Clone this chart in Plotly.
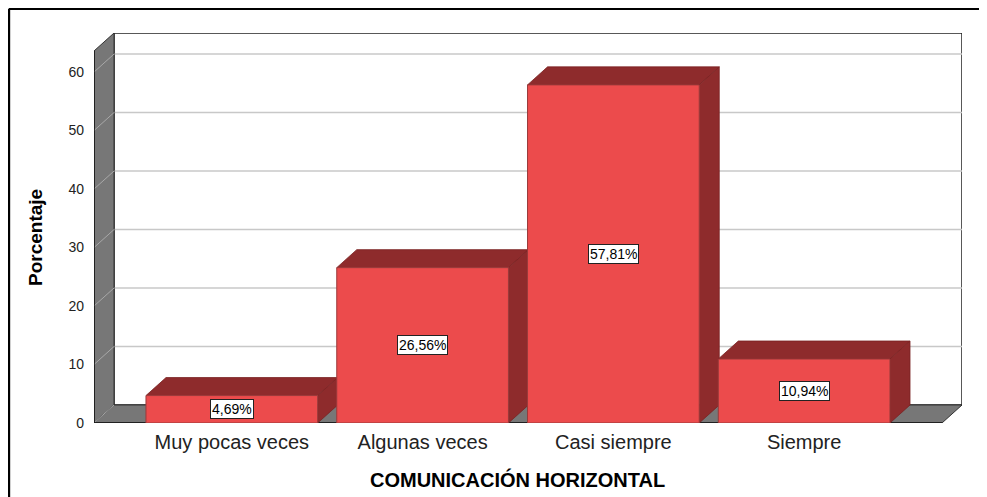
import plotly.graph_objects as go

# ---- data ----
categories = ["Muy pocas veces", "Algunas veces", "Casi siempre", "Siempre"]
values = [4.69, 26.56, 57.81, 10.94]
value_labels = ["4,69%", "26,56%", "57,81%", "10,94%"]
y_ticks = [0, 10, 20, 30, 40, 50, 60]
x_title = "COMUNICACIÓN HORIZONTAL"
y_title = "Porcentaje"

# ---- style / geometry ----
FONT = "Arial, Liberation Sans, sans-serif"
FRONT = "#EC4B4C"
DARK = "#8E2B2C"
GRAY = "#777777"
GRID = "#C8C8C8"
BAR_W = 0.9
XL, XR = -0.7225, 3.7225      # front plane x extent
YTOP = 63.6                   # front plane top
DX, DY = 0.105, 3.08          # depth offset (data units)

fig = go.Figure()
fig.add_trace(go.Bar(
    x=list(range(len(categories))), y=values, width=BAR_W,
    marker=dict(color=FRONT, line=dict(color="#9a3a3a", width=1)),
    hoverinfo="skip", showlegend=False))

shapes = []
# back wall
shapes.append(dict(type="rect", xref="x", yref="y", x0=XL + DX, x1=XR + DX,
                   y0=DY, y1=YTOP + DY, fillcolor="white",
                   line=dict(color="#222222", width=1.5), layer="below"))
# gridlines on back wall
for v in y_ticks[1:]:
    shapes.append(dict(type="line", xref="x", yref="y", x0=XL + DX, x1=XR + DX,
                       y0=v + DY, y1=v + DY, line=dict(color=GRID, width=1.5),
                       layer="below"))
# left wall
shapes.append(dict(type="path", xref="x", yref="y",
                   path=f"M {XL},0 L {XL},{YTOP} L {XL+DX},{YTOP+DY} L {XL+DX},{DY} Z",
                   fillcolor=GRAY, line=dict(color="#333333", width=1), layer="below"))
# floor
shapes.append(dict(type="path", xref="x", yref="y",
                   path=f"M {XL},0 L {XR},0 L {XR+DX},{DY} L {XL+DX},{DY} Z",
                   fillcolor=GRAY, line=dict(color="#333333", width=1), layer="below"))
# left wall gridlines
for v in y_ticks:
    shapes.append(dict(type="line", xref="x", yref="y", x0=XL, x1=XL + DX,
                       y0=v, y1=v + DY, line=dict(color="#A8A8A8", width=1),
                       layer="below"))
# front edges
shapes.append(dict(type="line", xref="x", yref="y", x0=XL, x1=XR, y0=0, y1=0,
                   line=dict(color="#111111", width=1.5), layer="below"))
shapes.append(dict(type="line", xref="x", yref="y", x0=XL, x1=XL, y0=0, y1=YTOP,
                   line=dict(color="#111111", width=1.5), layer="below"))
# bar tops and sides
for i, v in enumerate(values):
    x0, x1 = i - BAR_W / 2, i + BAR_W / 2
    shapes.append(dict(type="path", xref="x", yref="y",
                       path=f"M {x0},{v} L {x1},{v} L {x1+DX},{v+DY} L {x0+DX},{v+DY} Z",
                       fillcolor=DARK, line=dict(color="#7a2222", width=0.8), layer="below"))
    shapes.append(dict(type="path", xref="x", yref="y",
                       path=f"M {x1},0 L {x1+DX},{DY} L {x1+DX},{v+DY} L {x1},{v} Z",
                       fillcolor=DARK, line=dict(color="#7a2222", width=0.8), layer="below"))
# outer frame
shapes.append(dict(type="line", xref="paper", yref="paper", x0=-0.098, x1=-0.098,
                   y0=-0.3, y1=1.062, line=dict(color="black", width=2.5)))
shapes.append(dict(type="line", xref="paper", yref="paper", x0=-0.098, x1=1.1,
                   y0=1.062, y1=1.062, line=dict(color="black", width=2.5)))

annotations = []
for i, (v, t) in enumerate(zip(values, value_labels)):
    annotations.append(dict(x=i, y=v / 2, xref="x", yref="y", text=t, showarrow=False,
                            bgcolor="white", bordercolor="#222222", borderwidth=1,
                            borderpad=1, font=dict(family=FONT, size=14, color="black")))
annotations.append(dict(x=1.5, y=-0.145, xref="x", yref="paper", text=f"<b>{x_title}</b>",
                        showarrow=False, yanchor="middle",
                        font=dict(family=FONT, size=20, color="black")))
annotations.append(dict(x=-0.068, y=YTOP / 2, xref="paper", yref="y", text=f"<b>{y_title}</b>",
                        showarrow=False, textangle=-90, xanchor="center",
                        font=dict(family=FONT, size=19, color="black")))

fig.update_layout(
    width=987, height=497,
    margin=dict(l=86, r=33, t=25, b=82),
    paper_bgcolor="white", plot_bgcolor="white",
    bargap=0.1,
    shapes=shapes, annotations=annotations,
    xaxis=dict(range=[XL, XR + DX], tickvals=list(range(len(categories))),
               ticktext=categories, showgrid=False, zeroline=False, showline=False,
               ticks="", ticklabelstandoff=5,
               tickfont=dict(family=FONT, size=20, color="#222222")),
    yaxis=dict(range=[0, YTOP + DY], tickvals=y_ticks, showgrid=False, zeroline=False,
               showline=False, ticks="", ticklabelstandoff=9,
               tickfont=dict(family=FONT, size=14, color="#222222")),
)

fig.write_html("out.html")
